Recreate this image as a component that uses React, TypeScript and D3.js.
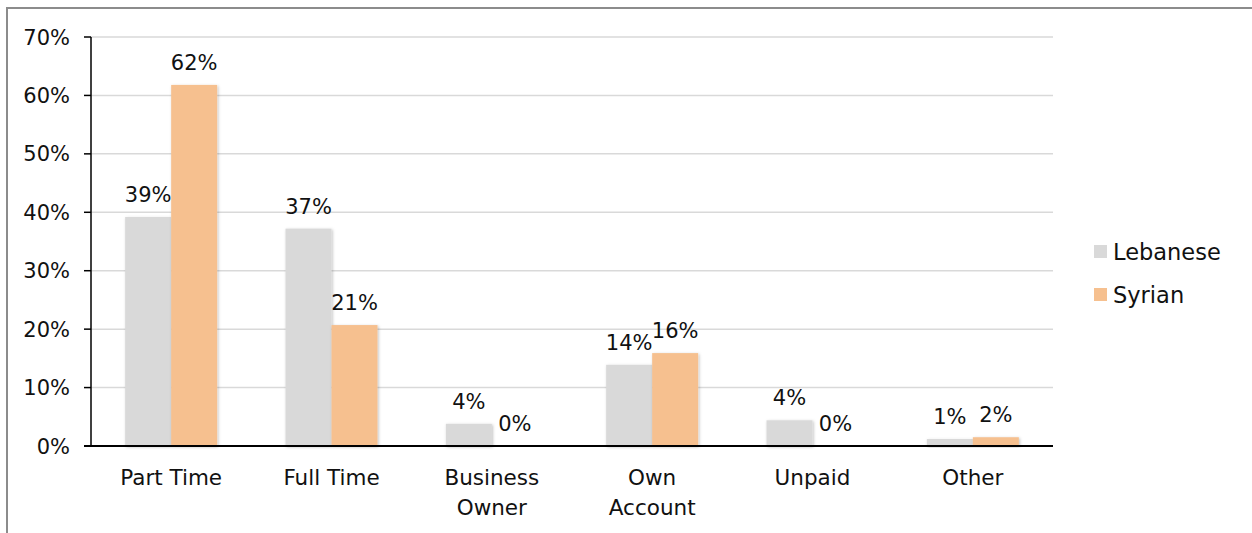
import React from "react";
import * as d3 from "d3";

const categories: string[][] = [["Part Time"], ["Full Time"], ["Business", "Owner"], ["Own", "Account"], ["Unpaid"], ["Other"]];
const seriesNames = ["Lebanese", "Syrian"];
const lebanese = [39.2, 37.2, 3.8, 13.9, 4.4, 1.2];
const syrian = [61.8, 20.7, 0, 15.9, 0, 1.5];
const lebaneseLabels = ["39%", "37%", "4%", "14%", "4%", "1%"];
const syrianLabels = ["62%", "21%", "0%", "16%", "0%", "2%"];
const yTicks = [0, 10, 20, 30, 40, 50, 60, 70];
const colors = ["#d9d9d9", "#f6c08f"];

const W = 1252;
const H = 533;
const left = 91;
const right = 1053;
const top = 37;
const bottom = 446;
const FONT = "'DejaVu Sans', sans-serif";

export default function App() {
  const x = d3.scaleBand<number>().domain(d3.range(categories.length)).range([left, right]).paddingInner(0).paddingOuter(0);
  const y = d3.scaleLinear().domain([0, 70]).range([bottom, top]);
  const barW = 46;
  const series = [lebanese, syrian];
  const labels = [lebaneseLabels, syrianLabels];

  return (
    <svg width={W} height={H} style={{ position: "absolute", left: 0, top: 0, background: "#fff" }}>
      <defs>
        <filter id="sh" x="-20%" y="-20%" width="140%" height="140%">
          <feDropShadow dx="1" dy="1" stdDeviation="1.5" floodColor="#000" floodOpacity="0.25" />
        </filter>
      </defs>
      <rect x={7} y={8} width={1260} height={540} fill="none" stroke="#8c8c8c" strokeWidth={2} />
      {yTicks.map((t) => (
        <g key={t}>
          {t > 0 && <line x1={left} x2={right} y1={y(t)} y2={y(t)} stroke="#d9d9d9" strokeWidth={1.5} />}
          <line x1={left - 7} x2={left} y1={y(t)} y2={y(t)} stroke="#000" strokeWidth={1.5} />
          <text x={70} y={y(t)} dy="0.36em" textAnchor="end" fontFamily={FONT} fontSize={21} fill="#111">
            {t}%
          </text>
        </g>
      ))}
      {categories.map((c, i) => {
        const cx = (x(i) as number) + x.bandwidth() / 2;
        return (
          <g key={i}>
            {series.map((s, k) => {
              const bx = cx - barW + k * barW;
              return (
                <rect key={k} x={bx} y={y(s[i])} width={barW} height={bottom - y(s[i])} fill={colors[k]} filter={s[i] > 0 ? "url(#sh)" : undefined} />
              );
            })}
            {series.map((s, k) => {
              const lx = cx - barW / 2 + k * barW;
              return (
                <text key={"l" + k} x={lx} y={y(s[i]) - 15} textAnchor="middle" fontFamily={FONT} fontSize={21} fill="#111">
                  {labels[k][i]}
                </text>
              );
            })}
            {c.map((line, j) => (
              <text key={"c" + j} x={cx} y={485 + j * 30} textAnchor="middle" fontFamily={FONT} fontSize={21.5} fill="#111">
                {line}
              </text>
            ))}
          </g>
        );
      })}
      <line x1={left} x2={left} y1={top} y2={bottom} stroke="#000" strokeWidth={1.5} />
      <line x1={left - 7} x2={right} y1={bottom} y2={bottom} stroke="#000" strokeWidth={2} />
      {seriesNames.map((n, k) => (
        <g key={n}>
          <rect x={1094} y={245 + k * 43} width={13} height={13} fill={colors[k]} />
          <text x={1113} y={252 + k * 43} dy="0.36em" fontFamily={FONT} fontSize={22.5} fill="#111">
            {n}
          </text>
        </g>
      ))}
    </svg>
  );
}
